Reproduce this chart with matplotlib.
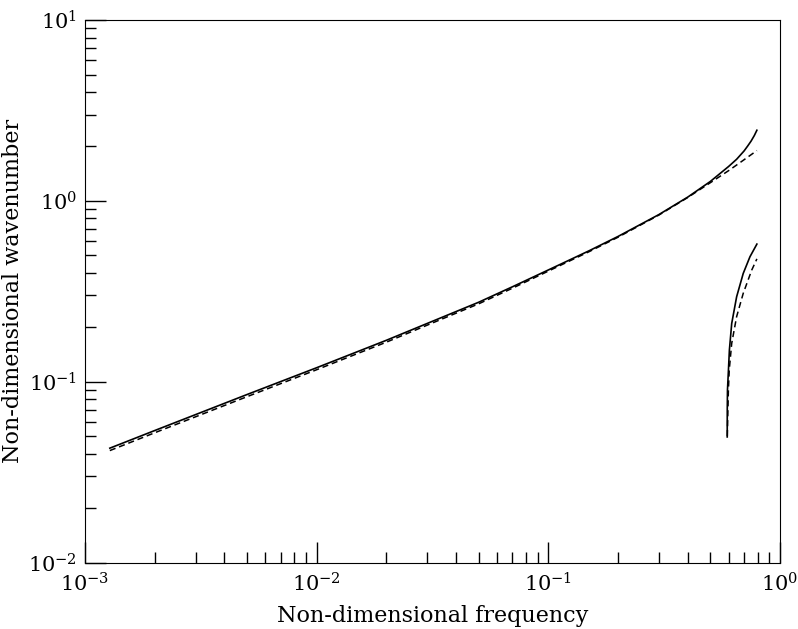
import matplotlib
matplotlib.use('Agg')
import matplotlib.pyplot as plt

plt.rcParams['font.family'] = 'DejaVu Serif'
plt.rcParams['mathtext.fontset'] = 'dejavuserif'

# first branch
freq1 = [0.00128, 0.002, 0.005, 0.01, 0.02, 0.03, 0.05, 0.07, 0.1, 0.15, 0.2, 0.3, 0.4, 0.5,
         0.6, 0.65, 0.7, 0.725, 0.75, 0.775, 0.795]
k1_solid = [0.0429, 0.0537, 0.0849, 0.1195, 0.1695, 0.21, 0.275, 0.335, 0.415, 0.53, 0.636, 0.84, 1.05, 1.28,
            1.55, 1.70, 1.89, 2.01, 2.14, 2.30, 2.46]
k1_dashed = [0.0416, 0.0522, 0.0826, 0.1165, 0.1655, 0.2055, 0.2695, 0.329, 0.409, 0.524, 0.63, 0.835, 1.045, 1.26,
             1.47, 1.58, 1.69, 1.745, 1.80, 1.855, 1.90]

# second branch
freq2_solid = [0.592, 0.5923, 0.5935, 0.6, 0.605, 0.619, 0.650, 0.694, 0.742, 0.795]
k2_solid = [0.0495, 0.07, 0.09, 0.12, 0.15, 0.21, 0.295, 0.397, 0.491, 0.577]
freq2_dashed = [0.5925, 0.596, 0.599, 0.604, 0.619, 0.650, 0.694, 0.755, 0.795]
k2_dashed = [0.05, 0.0697, 0.09, 0.116, 0.163, 0.229, 0.308, 0.414, 0.478]

fig = plt.figure(figsize=(7.98, 6.29), dpi=100)
ax = fig.add_axes([0.1065, 0.1057, 0.8709, 0.8623])

ax.plot(freq1, k1_solid, color='black', lw=1.2)
ax.plot(freq1, k1_dashed, color='black', lw=1.1, dashes=(4, 2.5))
ax.plot(freq2_solid, k2_solid, color='black', lw=1.2)
ax.plot(freq2_dashed, k2_dashed, color='black', lw=1.1, dashes=(4, 2.5))

ax.set_xscale('log')
ax.set_yscale('log')
ax.set_xlim(1e-3, 1)
ax.set_ylim(1e-2, 10)

ax.tick_params(which='both', direction='in', top=False, right=False, labelsize=15)
ax.tick_params(which='major', length=15, width=1)
ax.tick_params(which='minor', length=8, width=1)
ax.tick_params(axis='x', pad=7)
ax.tick_params(axis='y', pad=6)

ax.set_xlabel('Non-dimensional frequency', fontsize=16)
ax.set_ylabel('Non-dimensional wavenumber', fontsize=16)
ax.xaxis.set_label_coords(0.5, -0.078)
ax.yaxis.set_label_coords(-0.088, 0.5)

fig.savefig('out.png', dpi=100)
